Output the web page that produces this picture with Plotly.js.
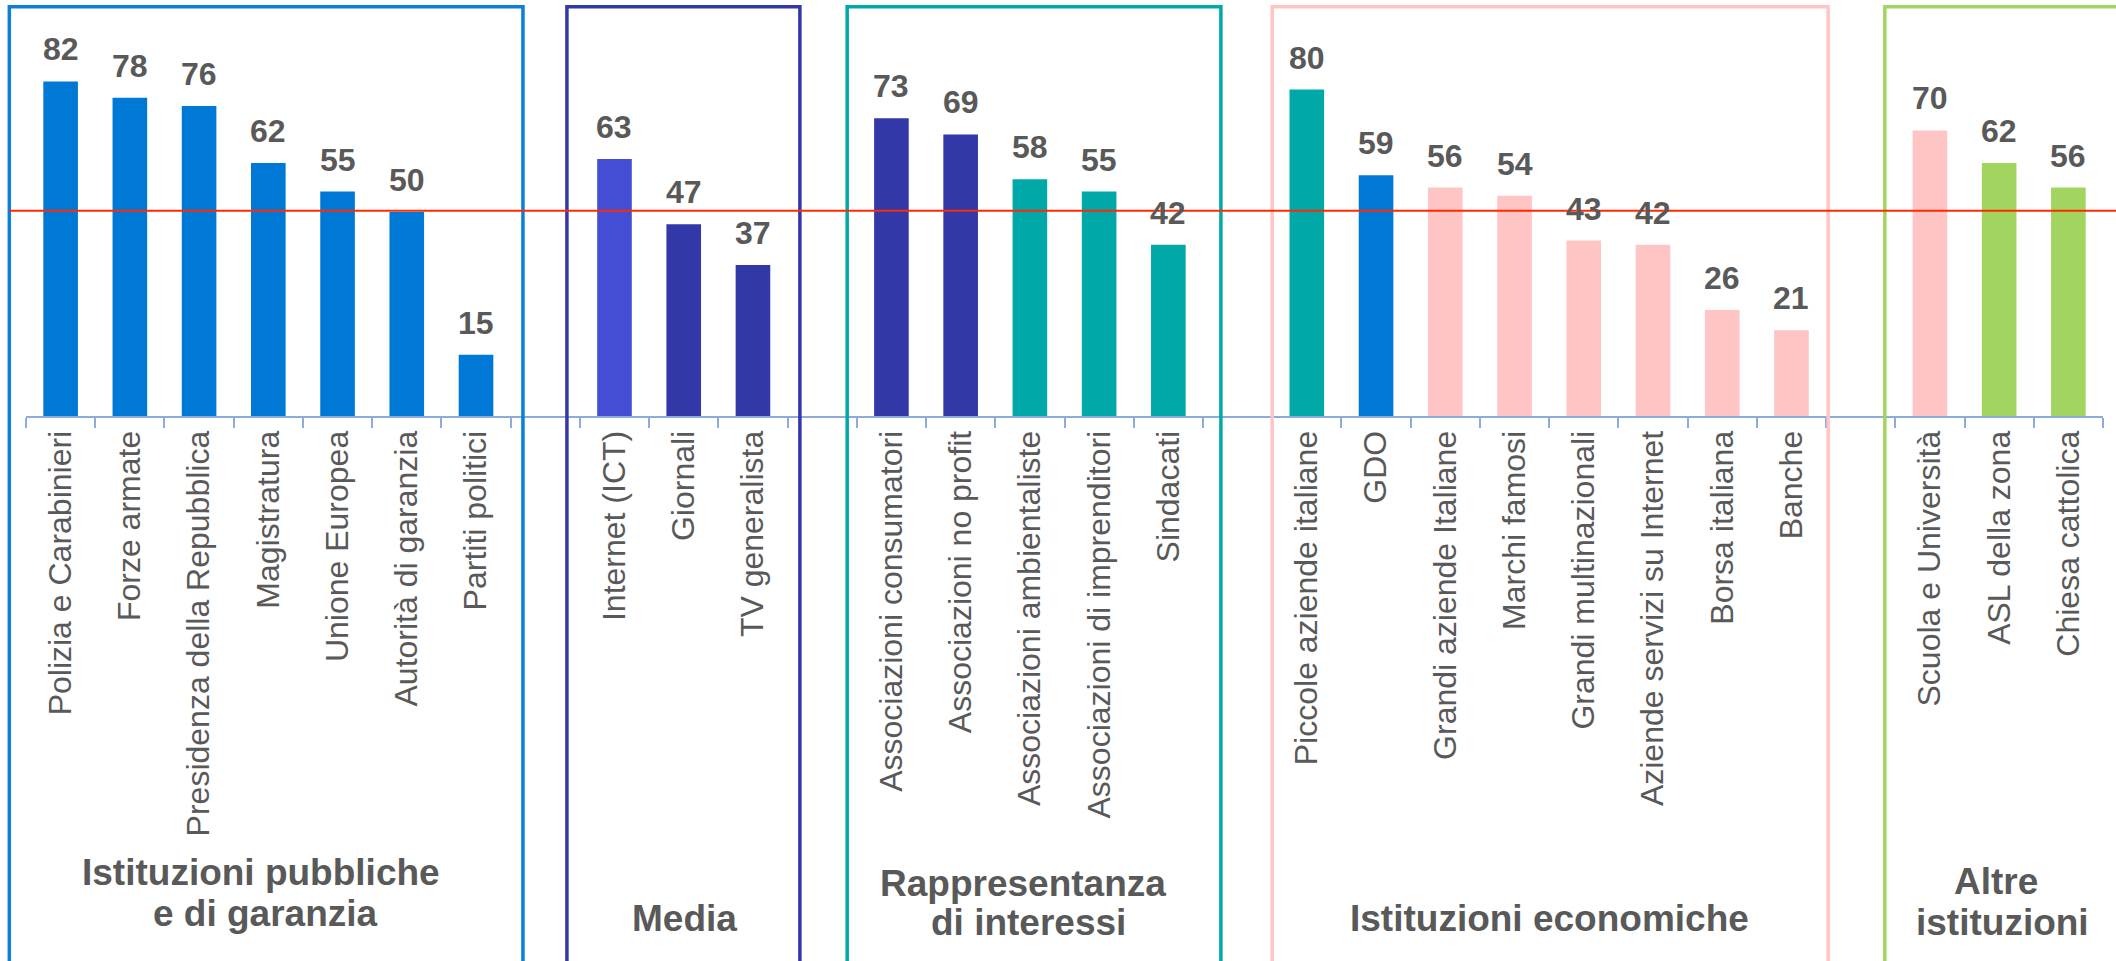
<!DOCTYPE html>
<html>
<head>
<meta charset="utf-8">
<script src="https://cdn.plot.ly/plotly-3.0.1.min.js"></script>
<style>
  html, body { margin: 0; padding: 0; background: #ffffff; }
  #chart { width: 2116px; height: 961px; }
</style>
</head>
<body>
<div id="chart"></div>
<script>
// ---------------- DATA ----------------
const pubblicheLabels = ["Polizia e Carabinieri", "Forze armate", "Presidenza della Repubblica", "Magistratura", "Unione Europea", "Autorità di garanzia", "Partiti politici"];
const pubblicheValues = [82, 78, 76, 62, 55, 50, 15];

const mediaLabels = ["Internet (ICT)", "Giornali", "TV generalista"];
const mediaValues = [63, 47, 37];

const rappLabels = ["Associazioni consumatori", "Associazioni no profit", "Associazioni ambientaliste", "Associazioni di imprenditori", "Sindacati"];
const rappValues = [73, 69, 58, 55, 42];

const economicheLabels = ["Piccole aziende italiane", "GDO", "Grandi aziende Italiane", "Marchi famosi", "Grandi multinazionali", "Aziende servizi su Internet", "Borsa italiana", "Banche"];
const economicheValues = [80, 59, 56, 54, 43, 42, 26, 21];

const altreLabels = ["Scuola e Università", "ASL della zona", "Chiesa cattolica"];
const altreValues = [70, 62, 56];

const referenceValue = 50.3;   // red horizontal reference line

const groupTitles = [
  ["Istituzioni pubbliche", "e di garanzia"],
  ["Media"],
  ["Rappresentanza", "di interessi"],
  ["Istituzioni economiche"],
  ["Altre", "istituzioni"]
];

// ---------------- STYLE ----------------
const BLUE = "#0079D6", INDIGO_L = "#434ED4", INDIGO = "#3338A8",
      TEAL = "#00A8A8", PINK = "#FFC5C5", GREEN = "#A1D55F";
const TXT = "#595959";
const FONT = "Liberation Sans, Arial, sans-serif";

const pubblicheColors = [BLUE, BLUE, BLUE, BLUE, BLUE, BLUE, BLUE];
const mediaColors = [INDIGO_L, INDIGO, INDIGO];
const rappColors = [INDIGO, INDIGO, TEAL, TEAL, TEAL];
const economicheColors = [TEAL, BLUE, PINK, PINK, PINK, PINK, PINK, PINK];
const altreColors = [PINK, GREEN, GREEN];

const groups = [
  {labels: pubblicheLabels, values: pubblicheValues, colors: pubblicheColors, box: "#0B80D8"},
  {labels: mediaLabels, values: mediaValues, colors: mediaColors, box: INDIGO},
  {labels: rappLabels, values: rappValues, colors: rappColors, box: TEAL},
  {labels: economicheLabels, values: economicheValues, colors: economicheColors, box: PINK},
  {labels: altreLabels, values: altreValues, colors: altreColors, box: GREEN}
];

// build a single category axis with one empty spacer category between groups
const xs = [], ys = [], cs = [];
groups.forEach((g, gi) => {
  g.start = xs.length;
  g.labels.forEach((l, i) => { xs.push(l); ys.push(g.values[i]); cs.push(g.colors[i]); });
  g.end = xs.length - 1;
  if (gi < groups.length - 1) { xs.push(" ".repeat(gi + 1)); ys.push(null); cs.push("#ffffff"); }
});
const N = xs.length;

// ---------------- LAYOUT GEOMETRY ----------------
const W = 2116, H = 961;
const M = {l: 26, r: 13, t: 8, b: 545};
const plotW = W - M.l - M.r, plotH = H - M.t - M.b;
const pxX = px => (px - M.l) / plotW;               // pixel -> paper x
const pxY = px => (H - M.b - px) / plotH;           // pixel -> paper y
const catX = c => (c + 0.5) / N;                    // category index -> paper x

const trace = {
  type: "bar",
  x: xs, y: ys,
  marker: {color: cs, line: {width: 0}},
  hoverinfo: "skip"
};

// value labels
const annotations = [];
xs.forEach((x, i) => {
  if (ys[i] === null) return;
  annotations.push({
    x: x, y: ys[i], xref: "x", yref: "y",
    text: String(ys[i]), showarrow: false,
    yanchor: "bottom", yshift: 12,
    font: {family: FONT, size: 32, color: TXT, weight: "bold"}
  });
});

// group titles (pixel centres / baselines measured from layout)
const titlePos = [
  [[260.5, 886], [265, 926.7]],
  [[684, 932]],
  [[1023, 896.7], [1028, 936]],
  [[1549.5, 931.7]],
  [[1996, 895], [2002, 935.7]]
];
groupTitles.forEach((lines, gi) => {
  lines.forEach((t, li) => {
    const [cx, base] = titlePos[gi][li];
    annotations.push({
      x: pxX(cx), y: pxY(base + 9), xref: "paper", yref: "paper",
      text: "<b>" + t + "</b>", showarrow: false,
      xanchor: "center", yanchor: "bottom",
      font: {family: FONT, size: 37, color: TXT}
    });
  });
});

// group boxes (edges in category units)
const boxEdges = [[-0.741, 6.678], [7.313, 10.678], [11.361, 16.759], [17.5, 25.53], [26.349, 31]];
const shapes = [];
groups.forEach((g, gi) => {
  shapes.push({
    type: "rect", xref: "paper", yref: "paper", layer: "above",
    x0: catX(boxEdges[gi][0]), x1: catX(boxEdges[gi][1]),
    y0: pxY(1100), y1: pxY(6.7),
    line: {color: g.box, width: 3.5}, fillcolor: "rgba(0,0,0,0)"
  });
});
// reference line
shapes.push({
  type: "line", xref: "paper", yref: "paper", layer: "above",
  x0: pxX(9.3), x1: pxX(W + 5),
  y0: referenceValue / 100, y1: referenceValue / 100,
  line: {color: "#FF2A00", width: 2}
});

const layout = {
  width: W, height: H,
  margin: M,
  paper_bgcolor: "#ffffff", plot_bgcolor: "#ffffff",
  showlegend: false,
  bargap: 0.5,
  font: {family: FONT, color: TXT},
  xaxis: {
    type: "category", categoryorder: "array", categoryarray: xs,
    range: [-0.5, N - 0.5],
    showline: true, linecolor: "#8FAADC", linewidth: 2,
    ticks: "outside", tickson: "boundaries", ticklen: 10, tickwidth: 2, tickcolor: "#8FAADC",
    tickangle: -90, tickfont: {family: FONT, size: 32, color: TXT},
    showgrid: false, zeroline: false, automargin: false, fixedrange: true
  },
  yaxis: {range: [0, 100], visible: false, showgrid: false, zeroline: false, fixedrange: true},
  annotations: annotations,
  shapes: shapes
};

Plotly.newPlot("chart", [trace], layout, {displayModeBar: false, staticPlot: true});
</script>
</body>
</html>
